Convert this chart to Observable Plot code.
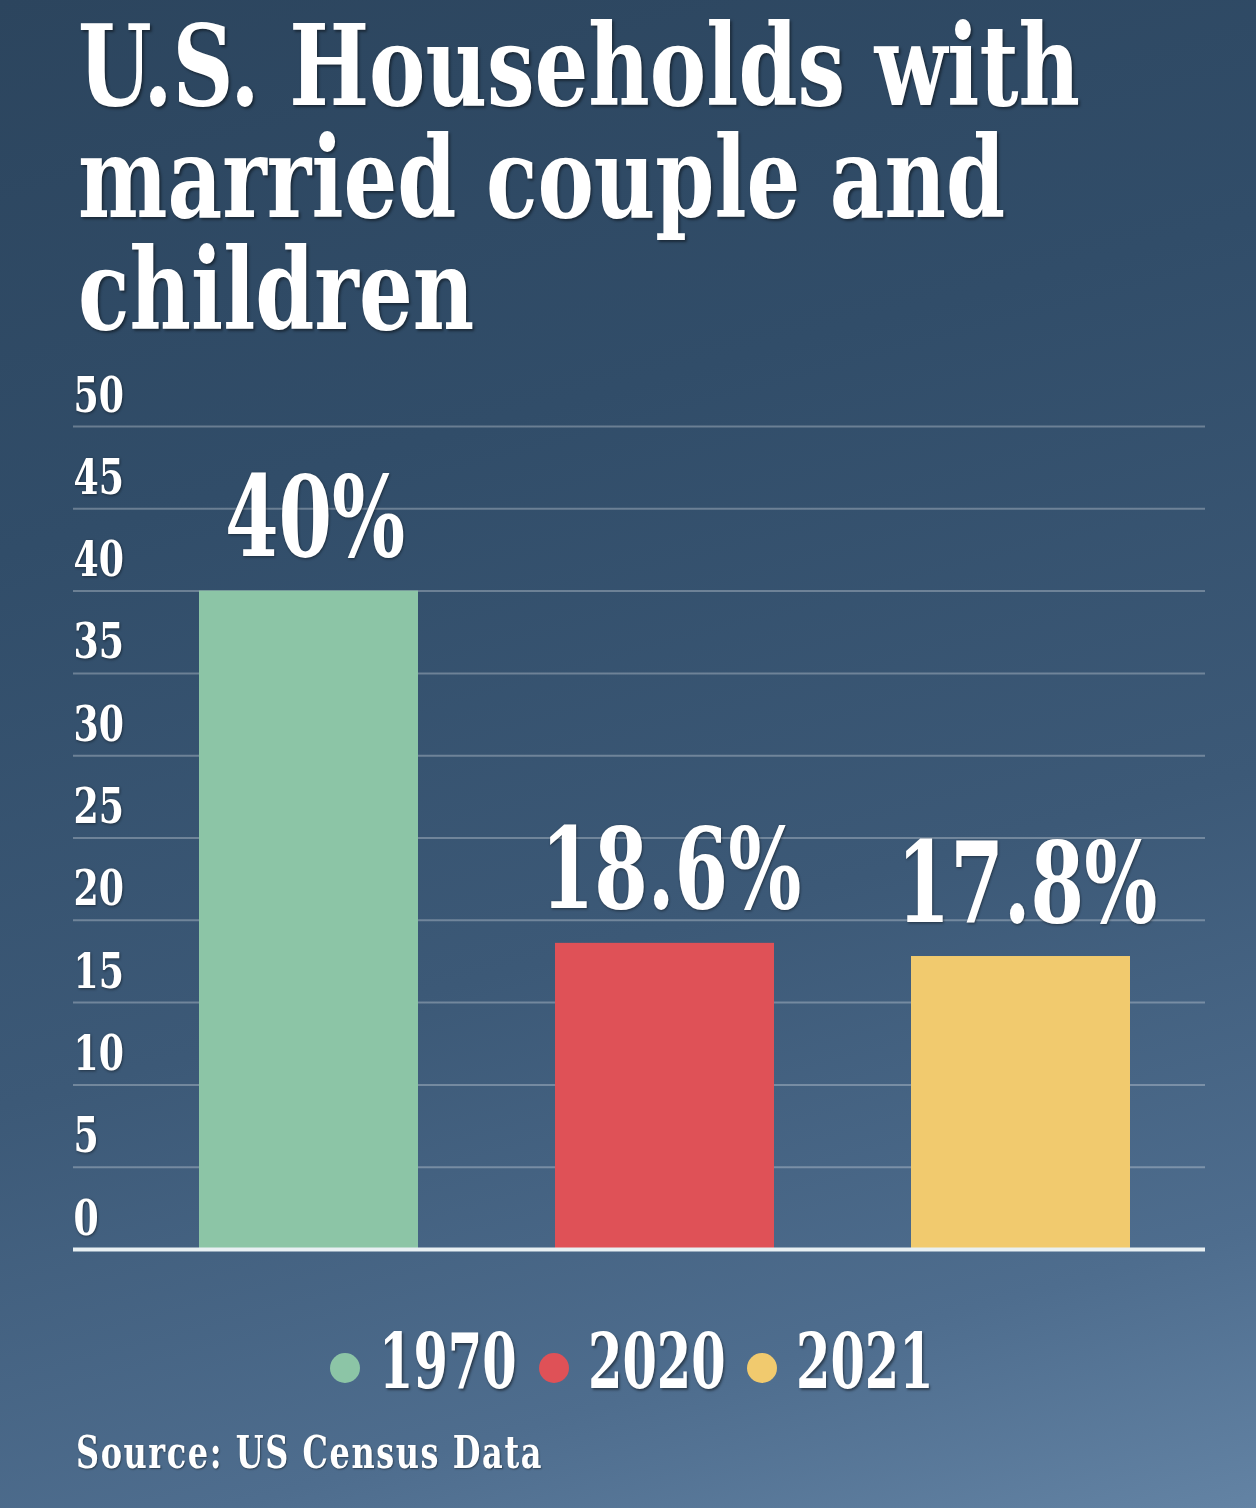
<!DOCTYPE html>
<html>
<head>
<meta charset="utf-8">
<script src="https://cdn.jsdelivr.net/npm/d3@7"></script>
<script src="https://cdn.jsdelivr.net/npm/@observablehq/plot@0.6"></script>
<style>
  html, body { margin: 0; padding: 0; }
  body {
    width: 1256px; height: 1508px; overflow: hidden; position: relative;
    background: linear-gradient(165deg, #2c455e 0%, #314d69 30%, #3c5977 60%, #4e6d8e 85%, #6383a4 100%);
    font-family: "DejaVu Serif Condensed", "DejaVu Serif", serif;
    font-weight: bold; font-stretch: condensed; color: #fff;
  }
  .title { position: absolute; left: 78px; top: 10px; font-size: 112px; line-height: 112px;
    text-shadow: 2px 2px 3px rgba(0,0,0,0.45); white-space: nowrap; }
  .title span { display: block; height: 112px; transform-origin: left center; }
  #chart { position: absolute; left: 0; top: 360px; }
  #chart text { filter: drop-shadow(1px 1px 1.5px rgba(0,0,0,0.45)); }
  .legend { position: absolute; left: 0; top: 1323px; width: 1256px; display: flex; justify-content: center;
    align-items: center; font-size: 77px; line-height: 77px; padding-left: 8px; box-sizing: border-box; }
  .legend .dot { width: 30px; height: 30px; border-radius: 50%; margin-top: 12px; margin-right: 19px; }
  .legend .lab { display: inline-block; white-space: nowrap; transform-origin: left center; margin-right: 22px;
    text-shadow: 2px 2px 3px rgba(0,0,0,0.45); }
  .legend .lab:last-child { margin-right: 0; }
  .source { position: absolute; left: 76px; top: 1430px; font-size: 45px; line-height: 45px; white-space: nowrap;
    transform-origin: left center; letter-spacing: 2px; text-shadow: 1px 1px 2px rgba(0,0,0,0.45); }
</style>
</head>
<body>
<div class="title" id="title"></div>
<div id="chart"></div>
<div class="legend" id="legend"></div>
<div class="source" id="source"></div>
<script>
const titleLines = ["U.S. Households with", "married couple and", "children"];
const sourceText = "Source: US Census Data";
const years = ["1970", "2020", "2021"];
const shares = [40, 18.6, 17.8];
const valueLabels = ["40%", "18.6%", "17.8%"];
const barColors = ["#8cc5a6", "#df5157", "#f1ca6e"];
const yTicks = [0, 5, 10, 15, 20, 25, 30, 35, 40, 45, 50];
const yTickLabels = ["0", "5", "10", "15", "20", "25", "30", "35", "40", "45", "50"];

const data = years.map((year, i) => ({year, share: shares[i], label: valueLabels[i]}));

// Title
const titleEl = document.getElementById("title");
titleLines.forEach(t => { const s = document.createElement("span"); s.textContent = t; titleEl.appendChild(s); });
const probe = document.createElement("span");
probe.style.cssText = "display:inline-block;position:absolute;visibility:hidden;white-space:nowrap";
probe.textContent = titleLines[0];
titleEl.appendChild(probe);
const natural = probe.getBoundingClientRect().width;
titleEl.removeChild(probe);
const squeeze = Math.min(1, 1002 / natural);
titleEl.querySelectorAll("span").forEach(s => s.style.transform = `scaleX(${squeeze})`);

const chart = Plot.plot({
  width: 1256,
  height: 929,
  marginLeft: 73,
  marginRight: 51,
  marginTop: 66,
  marginBottom: 40,
  style: {background: "transparent", fontFamily: "'DejaVu Serif Condensed', 'DejaVu Serif', serif", color: "white", overflow: "visible"},
  x: {domain: years, paddingInner: 0.385, paddingOuter: 0.278, align: 0.628, axis: null},
  y: {domain: [0, 50], axis: null},
  color: {domain: years, range: barColors},
  marks: [
    Plot.ruleY(yTicks, {stroke: "#ffffff", strokeOpacity: 0.28, strokeWidth: 2}),
    Plot.text(yTicks, {y: d => d, text: (d, i) => yTickLabels[i], frameAnchor: "left", textAnchor: "start",
      dy: -15, fontSize: 48, fontWeight: "bold", fill: "white"}),
    Plot.barY(data, {x: "year", y: "share", fill: "year"}),
    Plot.ruleY([0], {stroke: "#e8f0f3", strokeWidth: 4}),
    Plot.text(data, {x: "year", y: "share", text: "label", lineAnchor: "bottom", dy: -35, dx: 6,
      fontSize: 112, fontWeight: "bold", fill: "white"})
  ]
});
document.getElementById("chart").appendChild(chart);
chart.querySelectorAll("text").forEach(t => {
  const big = t.closest("g[font-size='112']") || (t.getAttribute("font-size") === "112");
  const s = squeeze * (big ? 0.91 : 1);
  const x = t.getAttribute("x"), y = t.getAttribute("y");
  let tr = t.getAttribute("transform") || "";
  if (x != null || y != null) {
    tr = `${tr} translate(${+x || 0},${+y || 0})`;
    t.removeAttribute("x"); t.removeAttribute("y");
  }
  t.setAttribute("transform", `${tr} scale(${s},1)`);
});

// Legend
const legend = document.getElementById("legend");
years.forEach((y, i) => {
  const dot = document.createElement("span"); dot.className = "dot"; dot.style.background = barColors[i];
  const lab = document.createElement("span"); lab.className = "lab"; lab.textContent = y;
  legend.appendChild(dot); legend.appendChild(lab);
  const w = lab.getBoundingClientRect().width;
  const s = squeeze * 0.85;
  lab.style.transform = `scaleX(${s})`;
  lab.style.width = (w * s) + "px";
});

// Source
const src = document.getElementById("source");
src.textContent = sourceText;
const sw = src.getBoundingClientRect().width;
src.style.transform = `scaleX(${Math.min(1, 467 / sw)})`;
</script>
</body>
</html>
